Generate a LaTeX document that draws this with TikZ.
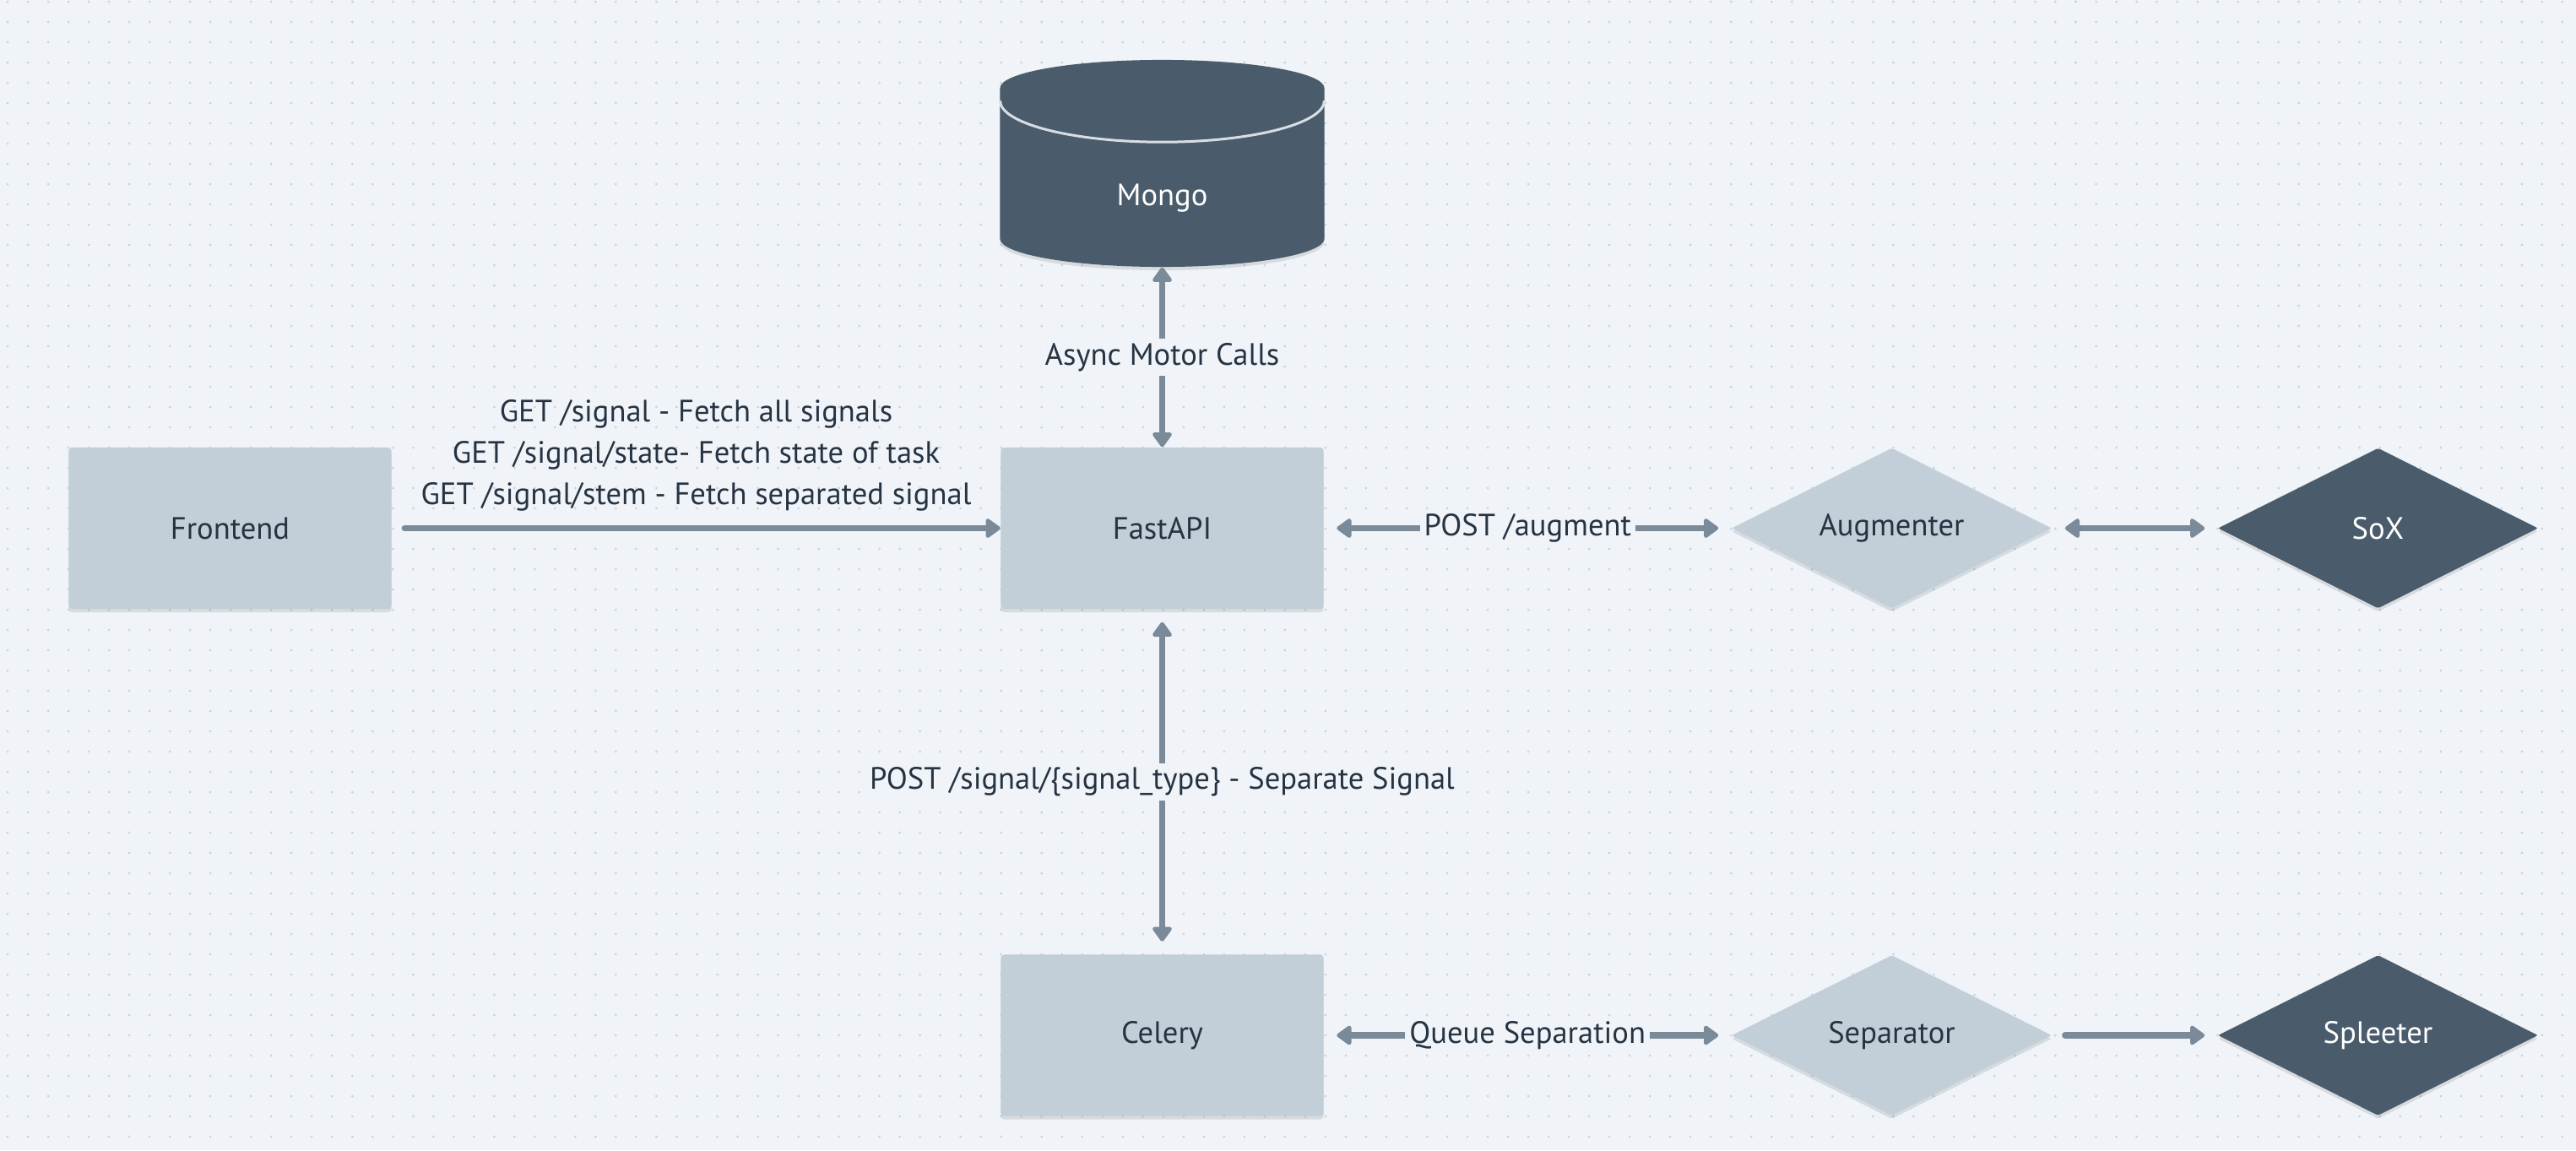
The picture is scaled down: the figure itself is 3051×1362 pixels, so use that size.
\documentclass[tikz,border=0pt]{standalone}
\usepackage{fontspec}
\setmainfont{PT Sans}
\usetikzlibrary{arrows.meta, shapes.geometric, shadows}

\definecolor{bg}{HTML}{F0F4F8}
\definecolor{dotc}{HTML}{C8D1DC}
\definecolor{lite}{HTML}{C2CFD9}
\definecolor{dark}{HTML}{4A5C6C}
\definecolor{wire}{HTML}{7A8A99}
\definecolor{ink}{HTML}{263342}
\definecolor{rim}{HTML}{D8DEE4}

\begin{document}
\begin{tikzpicture}[x=0.01cm, y=0.01cm, font=\fontsize{10.4}{13.9}\selectfont,
    >={Triangle[width=0.26cm,length=0.19cm,round]}]
    \tikzstyle{sh}=[drop shadow={shadow xshift=0pt, shadow yshift=-0.04cm, opacity=0.1, fill=black}]
    \tikzstyle{box}=[rectangle, rounded corners=0.04cm, fill=lite, text=ink, sh,
        minimum width=3.82cm, minimum height=1.91cm]
    \tikzstyle{dia}=[diamond, aspect=2, rounded corners=0.02cm, fill=lite, text=ink, sh,
        minimum width=3.79cm, minimum height=1.9cm, inner sep=0pt]
    \tikzstyle{dk}=[fill=dark, text=white]
    \tikzstyle{e}=[->, line width=0.075cm, wire, line cap=round,
        shorten >=0.15cm, shorten <=0.15cm]
    \tikzstyle{ee}=[e, <->]
    \tikzstyle{lbl}=[fill=bg, inner sep=0.05cm, text=ink]

    % canvas
    \fill[bg] (0,0) rectangle (3051,1362);
    \useasboundingbox (0,0) rectangle (3051,1362);
    \foreach \r in {0,...,56}
        \draw[dotc, line width=0.03cm, line cap=round, dash pattern=on 0pt off 0.24cm]
            (9,{1360-24*\r}) -- (3051,{1360-24*\r});

    \def\ry{736.5}
    \def\by{136}

    \node[box] (fe) at (272.5,\ry) {Frontend};
    \node[box] (fa) at (1376.5,\ry) {FastAPI};
    \node[box] (ce) at (1376.5,\by) {Celery};
    \node[cylinder, shape border rotate=90, aspect=0.51, sh, dk, anchor=shape center,
        text height=0.62cm, minimum width=3.84cm, minimum height=2.45cm] (mg) at (1376.5,1168.5) {Mongo};
    \draw[rim, line width=0.03cm] ([shift={(-192,-49)}]mg.north) arc (180:360:192 and 49);

    \node[dia] (au) at (2240.5,\ry) {Augmenter};
    \node[dia, dk] (sx) at (2816.5,\ry) {SoX};
    \node[dia] (sp) at (2240.5,\by) {Separator};
    \node[dia, dk] (sl) at (2816.5,\by) {Spleeter};

    \draw[e, shorten >=0pt] (fe) -- node[above=0.05cm, align=center, text=ink]
        {GET /signal - Fetch all signals\\GET /signal/state- Fetch state of task\\GET /signal/stem - Fetch separated signal} (fa);
    \draw[ee, shorten >=0pt, shorten <=0pt] (mg) -- node[lbl] {Async Motor Calls} (fa);
    \draw[ee] (fa) -- node[lbl] {POST /signal/\{signal\_type\} - Separate Signal} (ce);
    \draw[ee] (fa) -- node[lbl] {POST /augment} (au);
    \draw[ee] (au) -- (sx);
    \draw[ee] (ce) -- node[lbl] {Queue Separation} (sp);
    \draw[e] (sp) -- (sl);

\end{tikzpicture}
\end{document}
